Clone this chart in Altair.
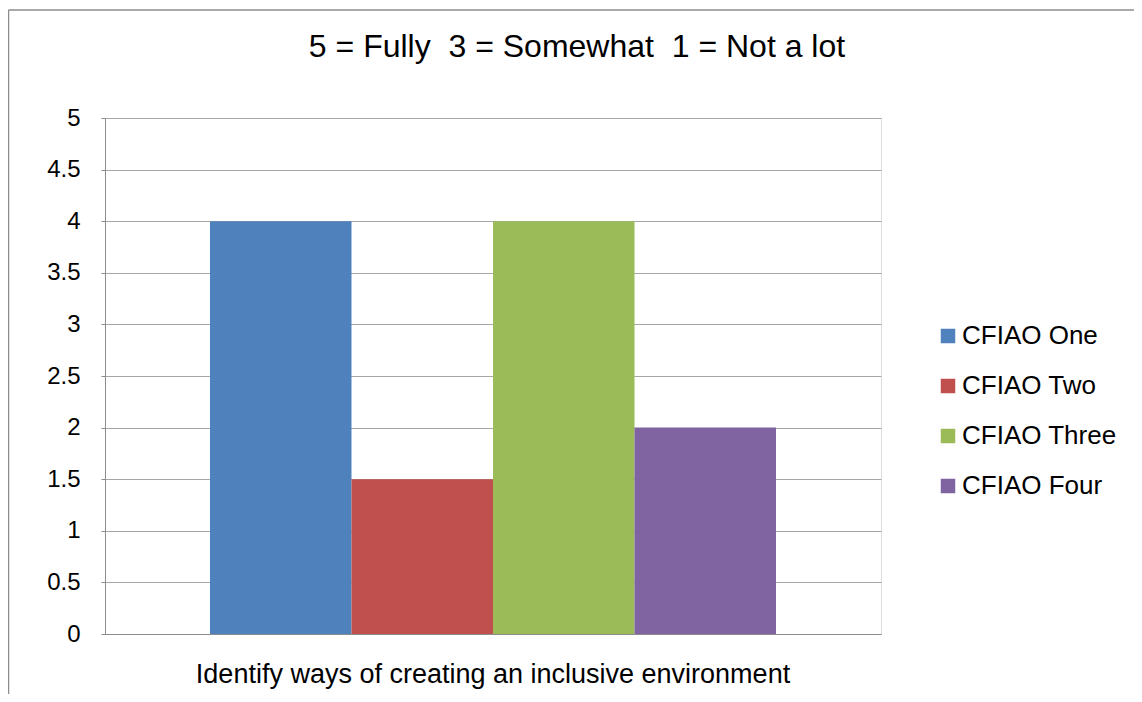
import altair as alt
import pandas as pd

title_text = "5 = Fully\u00a0\u00a03 = Somewhat\u00a0\u00a01 = Not a lot"
category = ["Identify ways of creating an inclusive environment"]
series = ["CFIAO One", "CFIAO Two", "CFIAO Three", "CFIAO Four"]
values = [4, 1.5, 4, 2]
colors = ["#4F81BD", "#C0504D", "#9BBB59", "#8064A2"]
y_ticks = [0, 0.5, 1, 1.5, 2, 2.5, 3, 3.5, 4, 4.5, 5]

df = pd.DataFrame({
    "category": category * len(series),
    "series": series,
    "value": values,
})

FONT = "Liberation Sans"
W, H = 776, 516

bars = alt.Chart(df).mark_bar().encode(
    x=alt.X("category:N", title=None,
            scale=alt.Scale(paddingInner=0, paddingOuter=0.1855),
            axis=alt.Axis(labelFontSize=27, labelColor="#000000", labelFont=FONT,
                          tickSize=0, labelPadding=40, labelBaseline="middle",
                          domainColor="#8C8C8C", labelAngle=0, labelLimit=900)),
    xOffset=alt.XOffset("series:N", sort=series,
                        scale=alt.Scale(paddingInner=0, paddingOuter=0)),
    y=alt.Y("value:Q", title=None,
            scale=alt.Scale(domain=[0, 5], nice=False),
            axis=alt.Axis(values=y_ticks, format="~g", labelFontSize=24,
                          labelColor="#000000", labelFont=FONT, tickSize=4,
                          tickColor="#8C8C8C", labelPadding=21,
                          gridColor="#A6A6A6", domainColor="#8C8C8C")),
    color=alt.Color("series:N", sort=series,
                    scale=alt.Scale(domain=series, range=colors),
                    legend=alt.Legend(title=None, orient="none", legendX=830,
                                      legendY=205, symbolType="square",
                                      symbolSize=210, symbolStrokeWidth=0,
                                      labelFontSize=26, labelFont=FONT,
                                      labelColor="#000000", labelOffset=1,
                                      rowPadding=24)),
)

title_df = pd.DataFrame({"t": [title_text]})
title = alt.Chart(title_df).mark_text(
    font=FONT, fontSize=32, color="#000000", align="center", baseline="middle"
).encode(x=alt.value(472), y=alt.value(-71), text="t:N")

border_df = pd.DataFrame({"k": [0]})
border_left = alt.Chart(border_df).mark_rule(color="#8C8C8C", strokeWidth=1.5).encode(
    x=alt.value(-96.5), y=alt.value(-108), y2=alt.value(H + 80))
border_top = alt.Chart(border_df).mark_rule(color="#8C8C8C", strokeWidth=1.5).encode(
    x=alt.value(-96.5), x2=alt.value(1040), y=alt.value(-108))

chart = alt.layer(bars, title, border_left, border_top).properties(
    width=W, height=H,
    padding={"left": 97, "top": 110, "right": 253, "bottom": 60},
    autosize=alt.AutoSizeParams(type="none"),
).configure_view(stroke=None).configure(font=FONT, background="#FFFFFF")

chart.save("out.html", embed_options={"renderer": "svg", "actions": False})
